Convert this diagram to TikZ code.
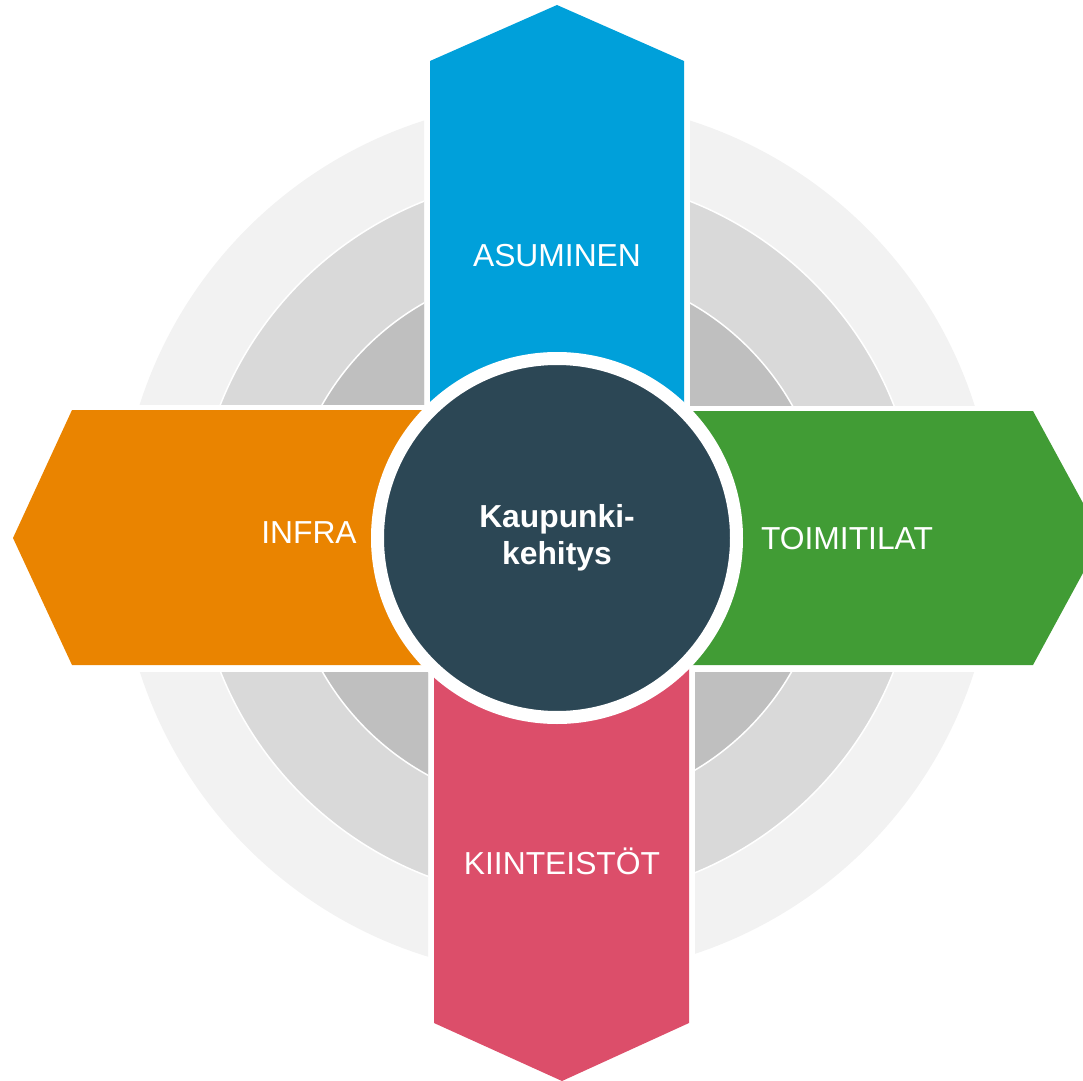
\documentclass[tikz,border=0pt]{standalone}
\usepackage{fontspec}
\setmainfont{Liberation Sans}
\definecolor{ringout}{RGB}{242,242,242}
\definecolor{ringmid}{RGB}{217,217,217}
\definecolor{ringin}{RGB}{191,191,191}
\definecolor{asublue}{RGB}{0,160,218}
\definecolor{infraorange}{RGB}{234,132,0}
\definecolor{toimigreen}{RGB}{65,156,53}
\definecolor{kiinpink}{RGB}{220,78,106}
\definecolor{kaupdark}{RGB}{44,71,85}

\begin{document}
\begin{tikzpicture}[x=0.5pt,y=-0.5pt,
    label/.style={text=white,font=\fontsize{15.9pt}{18.5pt}\selectfont,
      text height=11.4pt,text depth=0pt,inner sep=0pt},
    ringline/.style={draw=white,line width=0.75pt}]
    \useasboundingbox (0,0) rectangle (1083,1081);

    % rings, one quadrant at a time
    \foreach \xa/\ya/\xb/\yb in {0/0/424/404, 690/0/1083/405, 0/672/428/1081, 695/672/1083/1081}{
        \begin{scope}
            \clip (\xa,\ya) rectangle (\xb,\yb);
            \fill[ringout] (557,538) circle[radius=219pt];
            \filldraw[fill=ringmid,ringline] (557,538) circle[radius=181pt];
            \filldraw[fill=ringin,ringline] (557,538) circle[radius=135pt];
        \end{scope}
    }

    % arrows
    \fill[asublue] (430,538) -- (430,61) -- (557,5) -- (684,61) -- (684,538) -- cycle;
    \fill[infraorange] (557,410) -- (72,410) -- (13,538) -- (72,665) -- (557,665) -- cycle;
    \fill[toimigreen] (557,411) -- (1033,411) -- (1102,538) -- (1033,665) -- (557,665) -- cycle;
    \fill[kiinpink] (434,538) -- (434,1023) -- (562,1081) -- (689,1023) -- (689,538) -- cycle;

    \node (asuminen) [label,at={(557,255)}] {ASUMINEN};
    \node (infra) [label,at={(309,532)}] {INFRA};
    \node (toimitilat) [label,at={(847,538)}] {TOIMITILAT};
    \node (kiinteistot) [label,at={(562,863)}] {KIINTEIST\"OT};

    % centre
    \node (kehitys) [circle,fill=kaupdark,draw=white,line width=6.5pt,
      minimum size=179.5pt,inner sep=0pt,at={(557,538)},text=white,align=center,
      font=\bfseries\fontsize{15.9pt}{18.5pt}\selectfont] {Kaupunki-\\kehitys};
\end{tikzpicture}
\end{document}
